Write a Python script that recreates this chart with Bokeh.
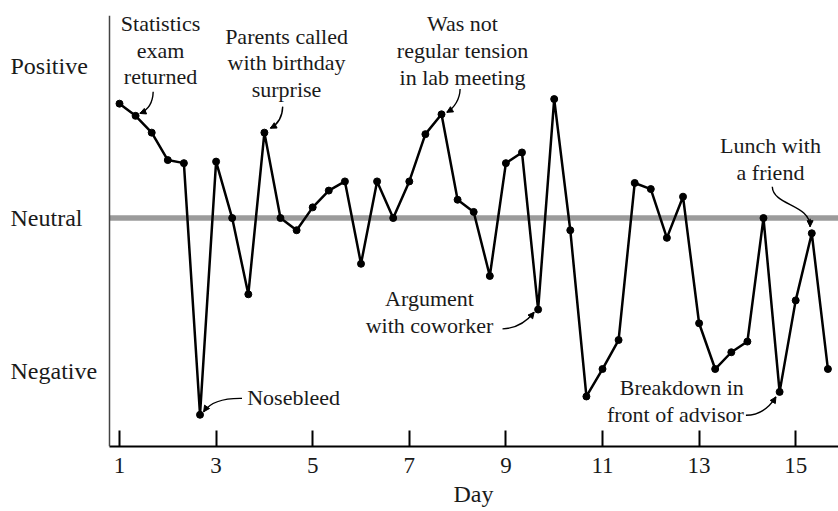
from bokeh.plotting import figure
from bokeh.models import Range1d, FixedTicker, Span, Label, Arrow, NormalHead, Title
from bokeh.embed import file_html
from bokeh.resources import INLINE

# ---------------- data ----------------
days = [1.0, 1.333, 1.667, 2.0, 2.333, 2.667, 3.0, 3.333, 3.667,
        4.0, 4.333, 4.667, 5.0, 5.333, 5.667, 6.0, 6.333, 6.667,
        7.0, 7.333, 7.667, 8.0, 8.333, 8.667, 9.0, 9.333, 9.667,
        10.0, 10.333, 10.667, 11.0, 11.333, 11.667, 12.0, 12.333, 12.667,
        13.0, 13.333, 13.667, 14.0, 14.333, 14.667, 15.0, 15.333, 15.667]
mood = [0.75, 0.67, 0.56, 0.38, 0.36, -1.29, 0.37, 0.0, -0.50,
        0.56, 0.0, -0.08, 0.07, 0.18, 0.24, -0.30, 0.24, 0.0,
        0.24, 0.55, 0.68, 0.12, 0.04, -0.38, 0.36, 0.43, -0.60,
        0.78, -0.08, -1.17, -0.99, -0.80, 0.23, 0.19, -0.13, 0.14,
        -0.69, -0.99, -0.88, -0.81, 0.0, -1.14, -0.54, -0.10, -0.99]
tick_days = [1, 3, 5, 7, 9, 11, 13, 15]
level_labels = ["Positive", "Neutral", "Negative"]
level_values = [1, 0, -1]
x_title = "Day"

# ---------------- layout ----------------
W, H = 838, 511
MT, MB = 15, 65
PXD = 48.3                      # pixels per day
X_AXIS = 1 - 10 / PXD           # where the left axis line sits
X0 = 1 - 119 / PXD
X1 = X0 + W / PXD
Y0, Y1 = -1.498, 1.328
PXV = (H - MT - MB) / (Y1 - Y0)
SERIF = "Liberation Serif"
INK = "#1a1a1a"

p = figure(width=W, height=H, x_range=Range1d(X0, X1), y_range=Range1d(Y0, Y1),
           output_backend="svg", toolbar_location=None, y_axis_location=None,
           min_border_left=0, min_border_right=0, min_border_top=MT,
           min_border_bottom=MB)
p.outline_line_color = None
p.xgrid.visible = False
p.ygrid.visible = False
p.background_fill_color = "white"
p.border_fill_color = "white"

# x axis
xa = p.xaxis[0]
xa.bounds = (X_AXIS, X1)
xa.ticker = FixedTicker(ticks=tick_days)
xa.minor_tick_line_color = None
xa.major_tick_in = 16
xa.major_tick_out = 0
xa.major_tick_line_width = 2
xa.major_tick_line_color = "black"
xa.axis_line_width = 2
xa.axis_line_color = "black"
xa.major_label_text_font = SERIF
xa.major_label_text_font_size = "23px"
xa.major_label_text_color = INK
xa.major_label_standoff = 11

# x axis title, centred over the axis extent (not the whole frame)
p.add_layout(Title(text=x_title, align="left", offset=453, standoff=6,
                   text_font=SERIF, text_font_size="24px",
                   text_font_style="normal", text_color=INK), "below")

# left axis line
p.add_layout(Span(location=X_AXIS, dimension="height", line_color="#444444",
                  line_width=1.5))

for lab, v in zip(level_labels, level_values):
    p.add_layout(Label(x=X0 + 10 / PXD, y=v, text=lab, text_font=SERIF,
                       text_font_size="24px", text_color=INK,
                       text_align="left", text_baseline="middle"))

# neutral line
p.segment(x0=[X_AXIS], y0=[0], x1=[X1], y1=[0], line_color="#9b9b9b",
          line_width=5.5, level="underlay")

# series
p.line(days, mood, line_color="black", line_width=2.5)
p.scatter(days, mood, size=7, fill_color="black", line_color="black")

# annotations
LS = 26.7 / PXV
notes = [
    (["Statistics", "exam", "returned"], 1.849, 1.275, "center"),
    (["Parents called", "with birthday", "surprise"], 4.458, 1.192, "center"),
    (["Was not", "regular tension", "in lab meeting"], 8.101, 1.273, "center"),
    (["Lunch with", "a friend"], 14.478, 0.475, "center"),
    (["Nosebleed"], 3.644, -1.175, "left"),
    (["Argument", "with coworker"], 7.418, -0.530, "center"),
    (["Breakdown in", "front of advisor"], 13.925, -1.110, "right"),
]
for lines, nx, ny, al in notes:
    for k, t in enumerate(lines):
        p.add_layout(Label(x=nx, y=ny - k * LS, text=t, text_font=SERIF,
                           text_font_size="22px", text_color=INK,
                           text_align=al, text_baseline="middle"))

# curved arrows: offsets in px (dx right, dy down) from the target point
arrows = [
    (1, [(17.6, -24), (17.3, -13.7), (12.3, -5.7), (4.3, -2.4)]),
    (9, [(18.3, -26), (18, -16.7), (14, -8.7), (6, -4.4)]),
    (20, [(18.6, -25.4), (18.3, -15.7), (13.3, -6.7), (5.3, -2)]),
    (5, [(42, -16.4), (25.3, -16.7), (10.3, -12.7), (3.6, -3)]),
    (26, [(-35.6, 19.3), (-22.3, 19), (-12.3, 13), (-4, 2.7)]),
    (41, [(-33.7, 23.3), (-20.7, 23.3), (-10.7, 16.3), (-3.7, 5)]),
    (43, [(-39.5, -46.6), (-38.5, -27.5), (-1.7, -29.3), (-1.7, -6.6)]),
]
for idx, pts in arrows:
    cx, cy = days[idx], mood[idx]
    conv = [(cx + dx / PXD, cy - dy / PXV) for dx, dy in pts]
    (sx, sy), (ax, ay), (bx, by), (ex, ey) = conv
    p.bezier(x0=[sx], y0=[sy], x1=[ex], y1=[ey], cx0=[ax], cy0=[ay],
             cx1=[bx], cy1=[by], line_color="black", line_width=1.4)
    p.add_layout(Arrow(x_start=ex - 0.35 * (ex - bx), y_start=ey - 0.35 * (ey - by),
                       x_end=ex, y_end=ey, line_color="black", line_width=1.4,
                       end=NormalHead(size=6, fill_color="black",
                                      line_color="black", line_width=1)))

open("out.html", "w").write(file_html(p, INLINE))
